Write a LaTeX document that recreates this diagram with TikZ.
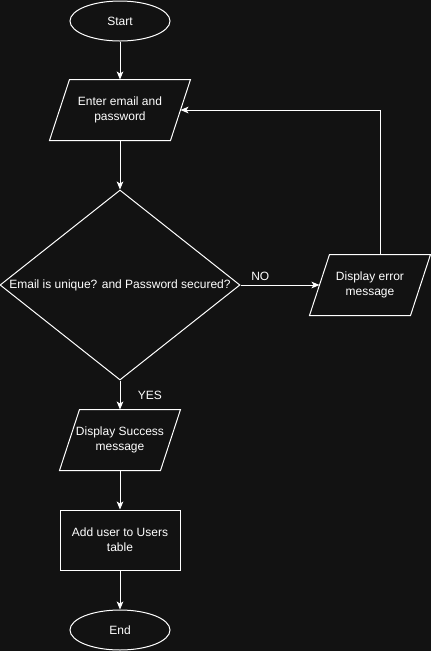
\documentclass[tikz,border=0pt]{standalone}
\usepackage{fontspec}
\setmainfont{Liberation Sans}
\usetikzlibrary{arrows.meta,shapes.geometric,positioning}
\definecolor{bgdark}{HTML}{121212}
\tikzset{>={Stealth[length=6pt,width=5pt,inset=1.5pt]},
         flow/.style={text=white,font=\fontsize{9}{11}\selectfont,align=center,inner sep=0pt},
         terminal/.style={flow,ellipse,draw,minimum width=75pt,minimum height=30pt},
         io/.style={flow,rectangle,minimum width=#1,minimum height=45pt,
                    append after command={\pgfextra{\draw[white,line width=0.75pt]
                      ([xshift=7.5pt]\tikzlastnode.north west) -- ([xshift=7.5pt]\tikzlastnode.north east)
                      -- ([xshift=-7.5pt]\tikzlastnode.south east) -- ([xshift=-7.5pt]\tikzlastnode.south west)
                      -- cycle;}}},
         process/.style={flow,draw,rectangle,minimum width=90pt,minimum height=45pt},
         decision/.style={flow,draw,diamond,minimum width=180pt,minimum height=142.5pt},
         tag/.style={text=white,font=\fontsize{9}{11}\selectfont,inner sep=0pt}}

\begin{document}
\begin{tikzpicture}[x=0.75pt,y=-0.75pt,color=white,line width=0.75pt]

	\fill[bgdark] (0,0) rectangle (431,651);
	\useasboundingbox (0,0) rectangle (431,651);

	\node[terminal] (start) at (120,21)  {Start};
	\node[io=90pt]  (enter) at (120,110) {Enter email and\\password};
	\node[decision,label={[tag]center:Email is unique? and Password secured?}] (check) at (120,285) {};
	\node[io=75pt]  (err)   at (370,285) {Display error\\message};
	\node[io=75pt]  (succ)  at (120,440) {Display Success\\message};
	\node[process]  (add)   at (120,540) {Add user to Users\\table};
	\node[terminal] (end)   at (120,630) {End};

	\draw[->] (start) -- (enter);
	\draw[->] (enter) -- (check);
	\draw[->] (check) -- node[tag,above=3pt,pos=0.25] (no) {NO} (err);
	\draw[->] ([xshift=7.5pt]err.north) |- (enter.east);
	\draw[->] (check) -- node[tag,right=13pt] (yes) {YES} (succ);
	\draw[->] (succ) -- (add);
	\draw[->] (add) -- (end);

\end{tikzpicture}
\end{document}
